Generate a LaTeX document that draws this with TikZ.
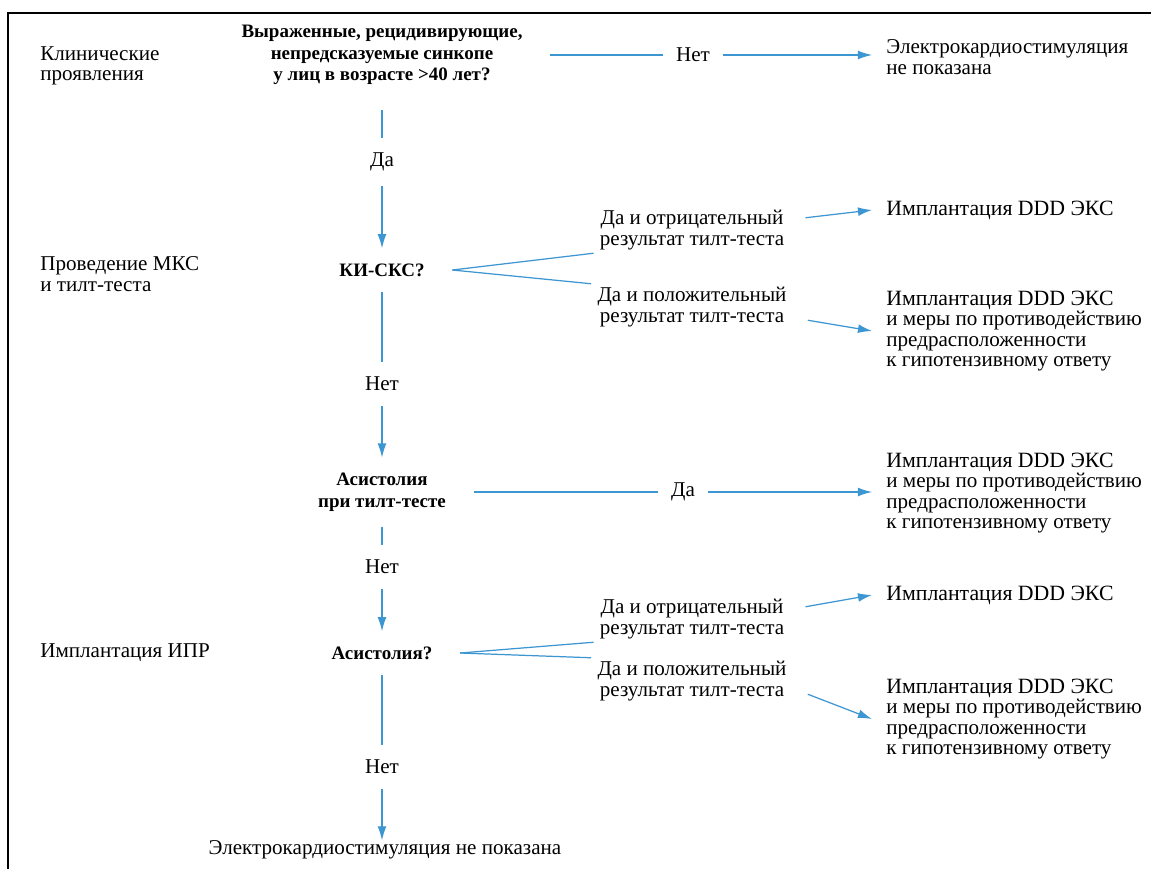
\documentclass[tikz,border=0pt]{standalone}
\usepackage{fontspec}
\setmainfont{Liberation Serif}
\usetikzlibrary{positioning,arrows.meta}
\definecolor{algBlue}{RGB}{60,150,210}
\tikzset{
  txt/.style={inner sep=0pt, font=\fontsize{12}{12.4}\selectfont},
  rowlab/.style={txt, anchor=west, align=left, font=\fontsize{12}{11.6}\selectfont},
  quest/.style={txt, font=\bfseries\fontsize{10.8}{12.4}\selectfont, align=center, inner xsep=0.55cm, inner ysep=0.3cm},
  ans/.style={txt, inner xsep=0.26cm, inner ysep=0.3cm},
  branch/.style={txt, align=center, inner xsep=0.12cm, inner ysep=0.05cm},
  res/.style={txt, anchor=west, align=left, inner xsep=0.28cm, font=\fontsize{12}{11.6}\selectfont},
  link/.style={algBlue, line width=0.7pt},
  arr/.style={link, -{Latex[length=8pt,width=5pt]}}
}
\newcommand{\resfirst}[1]{{\fontsize{12.4}{12}\selectfont #1}}
\begin{document}
\begin{tikzpicture}[x=0.02cm, y=-0.02cm]
  \useasboundingbox (0,0) rectangle (1151,868);
  \fill[white] (0,0) rectangle (1151,868);
  \draw[line width=1.1pt] (8,13) rectangle (1200,1000);

  % Row labels
  \node[rowlab] (rowA) at (40,66) {Клинические\\проявления};
  \node[rowlab] (rowB) at (40,274) {Проведение МКС\\и тилт-теста};
  \node[rowlab] (rowC) at (40,653) {Имплантация ИПР};

  % Main column
  \node[quest] (q1) at (382,55) {Выраженные, рецидивирующие,\\непредсказуемые синкопе\\у лиц в возрасте >40 лет?};
  \node[ans] (yes1) at (382,162) {Да};
  \node[quest] (q2) at (382,270) {КИ-СКС?};
  \node[ans] (no2) at (382,384) {Нет};
  \node[quest] (q3) at (382,492) {Асистолия\\при тилт-тесте};
  \node[ans] (no3) at (382,567) {Нет};
  \node[quest] (q4) at (382,653) {Асистолия?};
  \node[ans] (no4) at (382,767) {Нет};
  \node[txt] (fin) at (385,850) {Электрокардиостимуляция не показана};

  % Answers and outcomes
  \node[ans] (no1) at (693,55) {Нет};
  \node[res] (r1) at (872,57) {Электрокардиостимуляция\\не показана};
  \node[branch] (b2a) at (692,230) {Да и отрицательный\\результат тилт-теста};
  \node[branch] (b2b) at (692,307) {Да и положительный\\результат тилт-теста};
  \node[res] (r2a) at (872,210) {\resfirst{Имплантация DDD ЭКС}};
  \node[res] (r2b) at (872,331) {\resfirst{Имплантация DDD ЭКС}\\и меры по противодействию\\предрасположенности\\к гипотензивному ответу};
  \node[ans] (yes3) at (683,492) {Да};
  \node[res] (r3) at (872,493) {\resfirst{Имплантация DDD ЭКС}\\и меры по противодействию\\предрасположенности\\к гипотензивному ответу};
  \node[branch] (b4a) at (692,619) {Да и отрицательный\\результат тилт-теста};
  \node[branch] (b4b) at (692,681) {Да и положительный\\результат тилт-теста};
  \node[res] (r4a) at (872,595) {\resfirst{Имплантация DDD ЭКС}};
  \node[res] (r4b) at (872,719) {\resfirst{Имплантация DDD ЭКС}\\и меры по противодействию\\предрасположенности\\к гипотензивному ответу};

  % Connectors
  \draw[link] (q1) -- (no1);
  \draw[arr] (no1) -- (r1.west |- no1.east);
  \draw[link, shorten <=0.2cm] (q1) -- (yes1);
  \draw[arr] (yes1) -- (q2);
  \draw[link] (q2.east) -- (b2a.south west);
  \draw[link] (q2.east) -- (b2b.north west);
  \draw[arr] ([xshift=0.3cm, yshift=-0.22cm]b2a.north east) -- (r2a.west);
  \draw[arr] ([xshift=0.3cm, yshift=0.2cm]b2b.south east) -- (r2b.west);
  \draw[link] (q2) -- (no2);
  \draw[arr] (no2) -- (q3);
  \draw[link] (q3) -- (yes3);
  \draw[arr] (yes3) -- (r3.west |- yes3.east);
  \draw[link] (q3) -- (no3);
  \draw[arr] (no3) -- (q4);
  \draw[link] (q4.east) -- (b4a.south west);
  \draw[link] (q4.east) -- (b4b.north west);
  \draw[arr] ([xshift=0.3cm, yshift=-0.22cm]b4a.north east) -- (r4a.west);
  \draw[arr] ([xshift=0.3cm, yshift=0.2cm]b4b.south east) -- (r4b.west);
  \draw[link] (q4) -- (no4);
  \draw[arr] (no4) -- (no4 |- fin.north);
\end{tikzpicture}
\end{document}
